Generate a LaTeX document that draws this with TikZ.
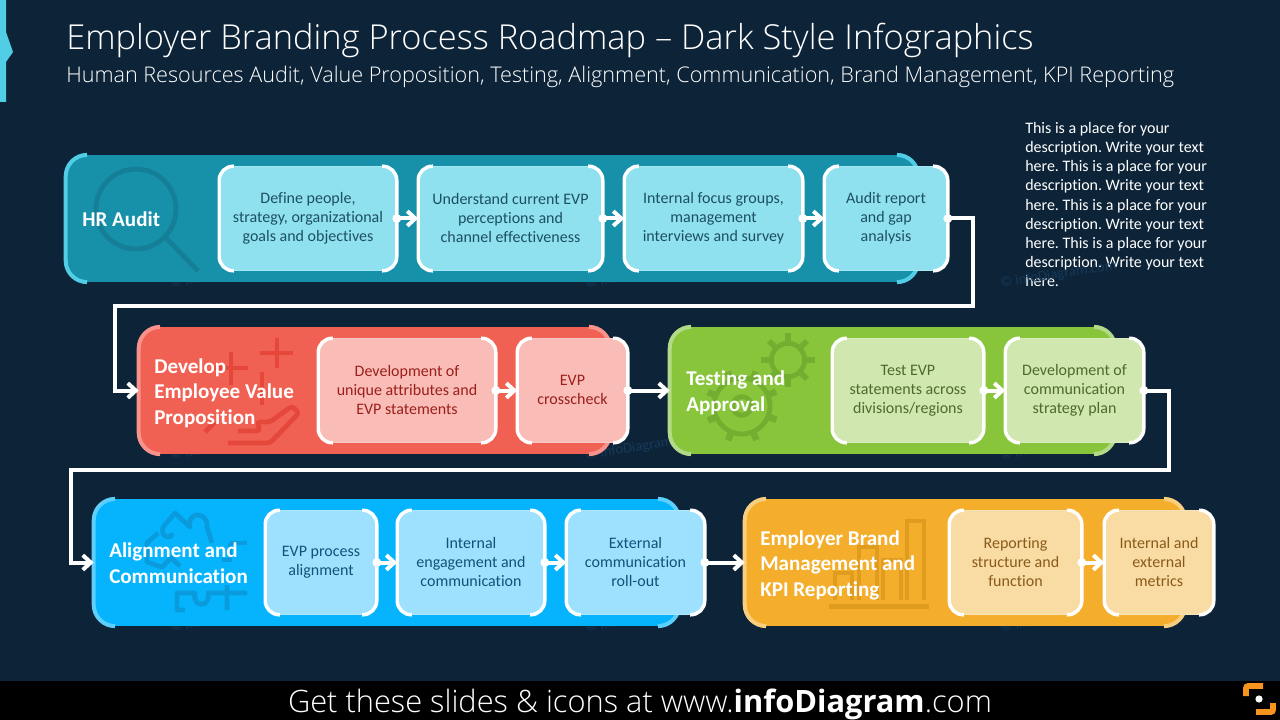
\documentclass[tikz,border=0pt]{standalone}
\usepackage{fontspec}
\setmainfont{Carlito}[Ligatures=NoCommon]
\newfontfamily\headfont{Open Sans Light}
\usetikzlibrary{arrows.meta}
\definecolor{page}{HTML}{0D2438}
\definecolor{water}{HTML}{15395A}
\definecolor{bandteal}{HTML}{1791A9}
\definecolor{edgeteal}{HTML}{52CDE6}
\definecolor{cardteal}{HTML}{8FE1F0}
\definecolor{inkteal}{HTML}{1D4F63}
\definecolor{iconteal}{HTML}{147F97}
\definecolor{bandred}{HTML}{F16153}
\definecolor{edgered}{HTML}{F8928A}
\definecolor{cardred}{HTML}{F9BCB6}
\definecolor{inkred}{HTML}{9C1F1B}
\definecolor{iconred}{HTML}{E5483A}
\definecolor{bandgreen}{HTML}{88C53B}
\definecolor{edgegreen}{HTML}{B3DB87}
\definecolor{cardgreen}{HTML}{D0E7AF}
\definecolor{inkgreen}{HTML}{4D6B2E}
\definecolor{icongreen}{HTML}{74AE31}
\definecolor{bandblue}{HTML}{06B4FD}
\definecolor{edgeblue}{HTML}{5DCFFE}
\definecolor{cardblue}{HTML}{9EE1FF}
\definecolor{inkblue}{HTML}{0F5478}
\definecolor{iconblue}{HTML}{0A9BDC}
\definecolor{bandgold}{HTML}{F4AE2C}
\definecolor{edgegold}{HTML}{F9CF7F}
\definecolor{cardgold}{HTML}{F9DCA3}
\definecolor{inkgold}{HTML}{8A5A1B}
\definecolor{icongold}{HTML}{DF9C1F}
\definecolor{logo}{HTML}{F7941D}
\tikzset{
  band/.style={rounded corners=16pt, inner sep=0pt, minimum height=95pt},
  bandtitle/.style={white, font=\fontsize{15.8}{19.2}\selectfont\bfseries, align=left, anchor=west, inner sep=0pt},
  card/.style={rounded corners=10.5pt, inner sep=0pt, align=center, minimum height=78pt, font=\fontsize{12}{14.4}\selectfont, execute at begin node=\rule{0pt}{14.3pt}, execute at end node=\rule[-1pt]{0pt}{1pt}},
  rim/.style={line width=3pt, rounded corners=16pt},
  bracket/.style={white, line width=2.6pt, rounded corners=10.5pt},
  flow/.style={white, line width=3pt, shorten <=-3.2pt, {Circle[length=6.5pt,fill=white]}-{Straight Barb[length=6pt,width=11pt,line width=3pt]}},
  icon/.style={line width=3.6pt},
}
\begin{document}
\begin{tikzpicture}[x=0.75pt, y=-0.75pt]
\fill[page] (0,0) rectangle (1280,720);
\useasboundingbox (0,0) rectangle (1280,720);
% side tab
\fill[edgeteal] (0,0) -- (6,0) -- (6,32) -- (13,52) -- (6,62) -- (6,102) -- (0,102) -- cycle;
\node[white, anchor=base west, inner sep=0pt, font=\headfont\fontsize{25.8}{30}\selectfont] (title) at (66,50) {Employer Branding Process Roadmap – Dark Style Infographics};
\node[white, anchor=base west, inner sep=0pt, font=\headfont\fontsize{16.2}{18}\selectfont] (subtitle) at (66,83) {Human Resources Audit, Value Proposition, Testing, Alignment, Communication, Brand Management, KPI Reporting};
\node[white, anchor=north west, inner sep=0pt, align=left, font=\fontsize{12}{14.4}\selectfont\frenchspacing] (descr) at (1025,122) {This is a place for your\\description. Write your text\\here. This is a place for your\\description. Write your text\\here. This is a place for your\\description. Write your text\\here. This is a place for your\\description. Write your text\\here.};
% watermarks
\foreach \px/\py in {170/284,585/284,1000/284,170/456,585/456,1000/456,170/628,585/628,1000/628}{
	\node[water, rotate=9, anchor=west, inner sep=0pt, font=\fontsize{11}{13}\selectfont] (w\px\py) at (\px,\py) {\textcopyright\ infoDiagram.com};
};
% bands
\foreach \nm/\xa/\xb/\yc/\tone in {bhr/66/918/218.5/teal, bdev/139/610/390.5/red, btest/670/1115/390.5/green, balign/94/679/562.5/blue, bkpi/745/1185/562.5/gold}{
	\node[band, fill=band\tone, minimum width=(\xb-\xa)*0.75pt] (\nm) at ({(\xa+\xb)/2},\yc) {};
	\draw[rim, edge\tone] ([xshift=16pt]\nm.north west) -- (\nm.north west) -- (\nm.south west) -- ([xshift=16pt]\nm.south west);
	\draw[rim, edge\tone] ([xshift=-16pt]\nm.north east) -- (\nm.north east) -- ([yshift=-16pt]\nm.north east);
	\draw[rim, edge\tone] ([xshift=-16pt]\nm.south east) -- (\nm.south east) -- ([yshift=16pt]\nm.south east);
};
% magnifier
\draw[icon, iconteal] (136,209) circle (30pt);
\draw[icon, iconteal] (165,237) -- (198,271);
% plus signs and hand
\draw[icon, iconred] (260,353) -- (293,353) (277,338) -- (277,368);
\draw[icon, iconred] (214,368) -- (248,368) (231,352) -- (231,385);
\draw[icon, iconred] (262,372) -- (262,405);
\draw[icon, iconred, rounded corners=2.5pt] (228,443) -- (270,443) -- (299,413) -- (292,406) -- (270,422) -- (257,422) -- (260,431) -- (238,431);
\draw[icon, iconred] (205,432) -- (215,422);
% gears
\draw[icon, icongreen] (742,406) circle (21pt) (742,406) circle (7pt);
\foreach \ang in {0,45,...,315}{
	\draw[line width=5pt, icongreen] (742,406) ++(\ang+22:28) -- ++(\ang+22:9);
};
\draw[icon, icongreen] (788,360) circle (12.5pt);
\foreach \ang in {0,45,...,315}{
	\draw[line width=4pt, icongreen] (788,360) ++(\ang:18) -- ++(\ang:9);
};
% puzzle
\draw[icon, iconblue, line join=round] (163,527) -- (175,513) -- (190,527) .. controls (186,512) and (208,510) .. (207,527) -- (212,543);
\draw[icon, iconblue, line join=round] (163,527) .. controls (160,538) and (172,540) .. (172,533) (158,533) -- (147,543) -- (147,562) -- (162,567) -- (171,558) -- (180,566);
\draw[icon, iconblue] (230,543) -- (247,543) (230,543) -- (230,560) -- (222,560);
\draw[icon, iconblue, line join=round] (185,610) -- (177,610) -- (177,593) -- (195,593) .. controls (192,608) and (211,608) .. (208,593) -- (247,593) (227,585) -- (227,610);
% bars
\draw[line width=3.75pt, icongold] (829,606) -- (929,606);
\foreach \ba/\bb/\bt in {835/852/573, 859/877/547, 883/901/560, 907/924/521}{
	\draw[icon, icongold] (\ba,600) -- (\ba,\bt) -- (\bb,\bt) -- (\bb,600);
};
% band titles
\node[bandtitle] (thr) at (82,219) {HR Audit};
\node[bandtitle] (tdev) at (154,393) {Develop\\Employee Value\\Proposition};
\node[bandtitle] (ttest) at (686,393) {Testing and\\Approval};
\node[bandtitle] (talign) at (109,563) {Alignment and\\Communication};
\node[bandtitle] (tkpi) at (760,565) {Employer Brand\\Management and\\KPI Reporting};
% cards
\foreach \nm/\xa/\xb/\yc/\tone/\txt in {
	c1/218/398/218.5/teal/{Define people,\\strategy, organizational\\goals and objectives},
	c2/417/604/218.5/teal/{Understand current EVP\\perceptions and\\channel effectiveness},
	c3/623/804/218.5/teal/{Internal focus groups,\\management\\interviews and survey},
	c4/823/949/218.5/teal/{Audit report\\and gap\\analysis},
	d1/317/497/390.5/red/{Development of\\unique attributes and\\EVP statements},
	d2/516/629/390.5/red/{EVP\\crosscheck},
	e1/831/985/390.5/green/{Test EVP\\statements across\\divisions/regions},
	e2/1004/1145/390.5/green/{Development of\\communication\\strategy plan},
	f1/264/378/562.5/blue/{EVP process\\alignment},
	f2/396/546/562.5/blue/{Internal\\engagement and\\communication},
	f3/565/706/562.5/blue/{External\\communication\\roll-out},
	g1/948/1083/562.5/gold/{Reporting\\structure and\\function},
	g2/1103/1215/562.5/gold/{Internal and\\external\\metrics}}{
	\node[card, fill=card\tone, draw=card\tone!80!white, text=ink\tone, minimum width=(\xb-\xa-3)*0.75pt] (\nm) at ({(\xa+\xb)/2},\yc) {\txt};
	\draw[bracket] ([xshift=11pt]\nm.north west) -- (\nm.north west) -- (\nm.south west) -- ([xshift=11pt]\nm.south west);
	\draw[bracket] ([xshift=-11pt]\nm.north east) -- (\nm.north east) -- (\nm.south east) -- ([xshift=-11pt]\nm.south east);
};
% connectors
\coordinate (turnA) at (973,306);
\coordinate (turnB) at (115,390.5);
\coordinate (turnC) at (1169,470);
\coordinate (turnD) at (71,562.5);
\foreach \from/\to in {c1/c2, c2/c3, c3/c4, d1/d2, d2/btest, e1/e2, f1/f2, f2/f3, f3/bkpi, g1/g2}{
	\draw[flow] (\from.east) -- (\to.west);
};
\draw[flow] (c4.east) -| (turnA) -| (turnB) -- (bdev.west);
\draw[flow] (e2.east) -| (turnC) -| (turnD) -- (balign.west);
% footer
\fill[black] (0,681) rectangle (1280,720);
\node[white, anchor=base, inner sep=0pt, font=\headfont\fontsize{23.1}{28}\selectfont] (footer) at (640,712) {Get these slides \& icons at www.{\fontspec{Open Sans Bold}infoDiagram}.com};
\draw[logo, line width=4.2pt, rounded corners=1.5pt] (1263,686) -- (1246,686) -- (1246,696);
\draw[logo, line width=4.2pt, rounded corners=1.5pt] (1256,712) -- (1273,712) -- (1273,703);
\fill[white] (1259,699) circle (2.7pt);
\end{tikzpicture}
\end{document}
